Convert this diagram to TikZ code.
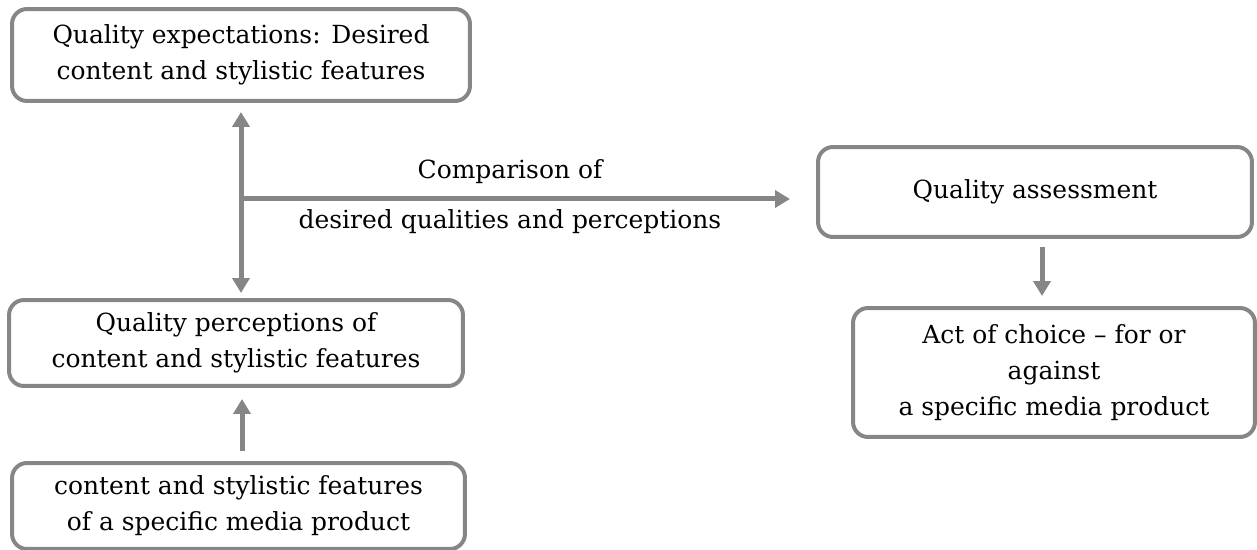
\documentclass[tikz,border=0pt]{standalone}
\usepackage{fontspec}
\setmainfont{DejaVu Serif}
\usetikzlibrary{arrows.meta, positioning, calc}

\begin{document}
\begin{tikzpicture}[
    x=0.02cm, y=-0.02cm,
    box/.style={rectangle, draw=gray!95, line width=0.08cm, rounded corners=0.3cm, align=center, font=\fontsize{14.2}{20.5}\selectfont, inner sep=0pt},
    lbl/.style={font=\fontsize{14.2}{20.5}\selectfont, inner sep=0pt},
    arrow/.style={draw=gray!95, line width=0.1cm, -{Triangle[width=0.34cm,length=0.3cm]}},
    twoway/.style={arrow, {Triangle[width=0.34cm,length=0.3cm]}-{Triangle[width=0.34cm,length=0.3cm]}}
]
    \useasboundingbox (0,0) rectangle (1257,550);

    \node [box, minimum width=9.16cm, minimum height=1.84cm] (expect) at (241,55) {Quality expectations: Desired\\content and stylistic features};
    \node [box, minimum width=9.08cm, minimum height=1.72cm] (percept) at (236,343) {Quality perceptions of\\content and stylistic features};
    \node [box, minimum width=9.06cm, minimum height=1.72cm] (product) at (238.5,506) {content and stylistic features\\of a specific media product};
    \node [box, minimum width=8.68cm, minimum height=1.80cm] (assess) at (1035,192) {Quality assessment};
    \node [box, minimum width=8.04cm, minimum height=2.58cm] (choice) at (1054,372.5) {Act of choice -- for or\\against\\a specific media product};

    \coordinate (split) at (241,199);
    \coordinate (cmpend) at (790,199);
    \node [lbl] (cmptop) at (510,172) {Comparison of};
    \node [lbl] (cmpbot) at (510,222) {desired qualities and perceptions};

    \draw [twoway, shorten <=0.18cm, shorten >=0.1cm] (expect.south) -- (expect.south |- percept.north);
    \draw [arrow] (split) -- (cmpend);
    \draw [arrow, shorten <=0.16cm, shorten >=0.2cm] ([xshift=0.14cm]assess.south) -- ([xshift=0.14cm]assess.south |- choice.north);
    \draw [arrow, shorten <=0.2cm, shorten >=0.22cm] ([xshift=0.07cm]product.north) -- ([xshift=0.07cm]product.north |- percept.south);
\end{tikzpicture}
\end{document}
